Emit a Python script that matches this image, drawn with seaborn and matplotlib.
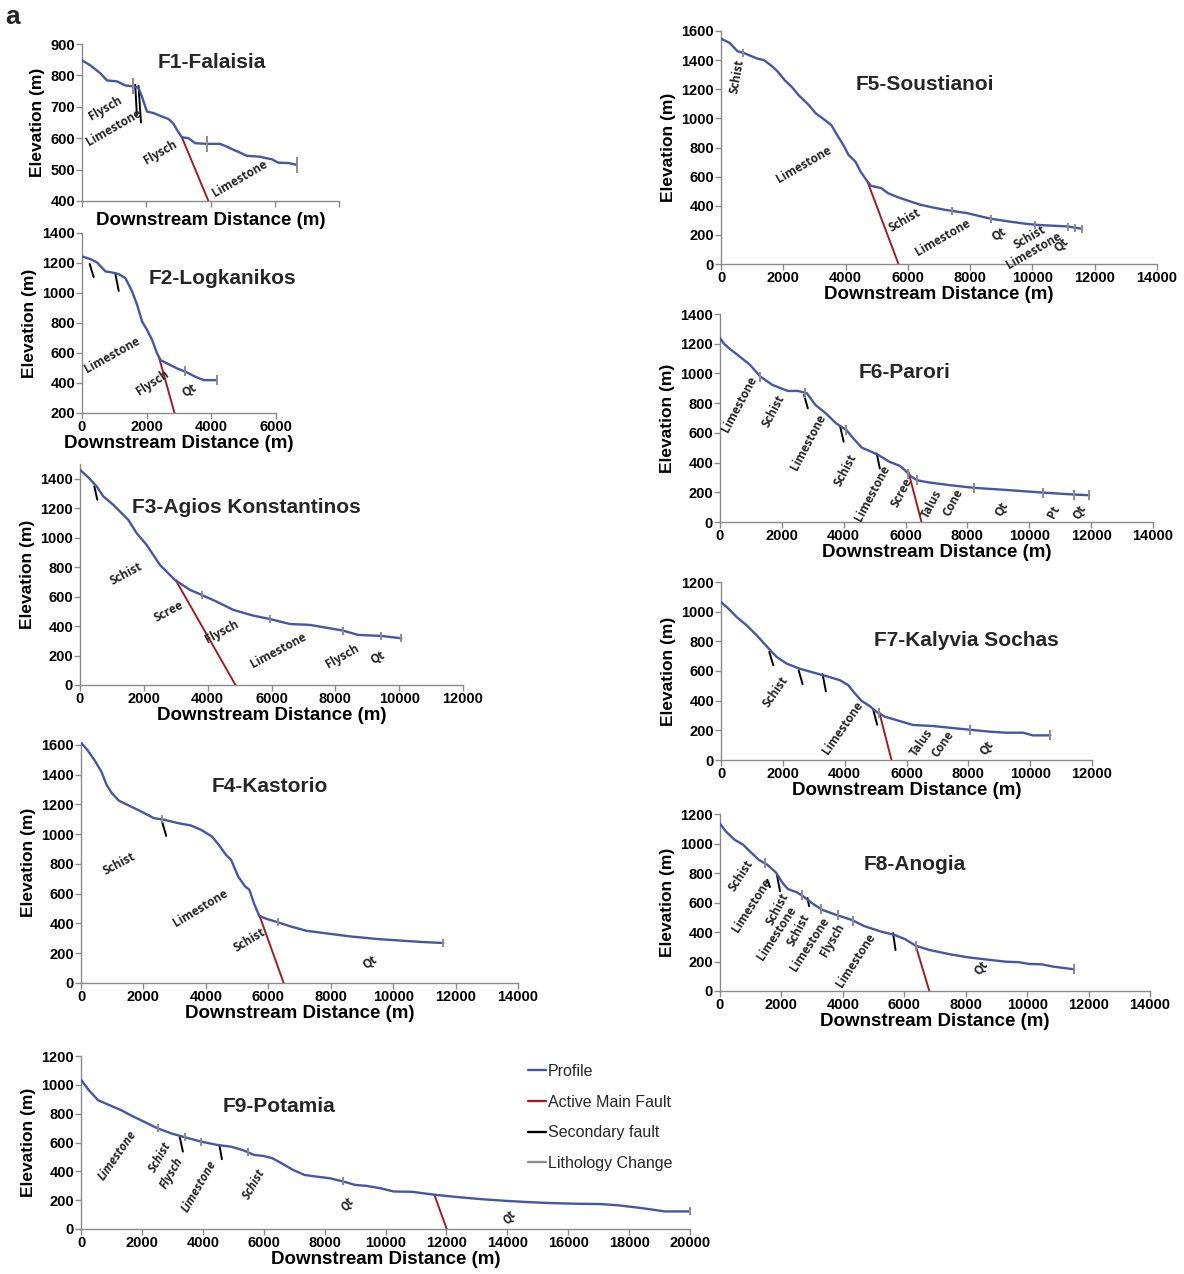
import numpy as np
import matplotlib
matplotlib.use("Agg")
import matplotlib.pyplot as plt
import seaborn as sns
from matplotlib.lines import Line2D

# ---------------- data ----------------
f1_x = [0, 65, 142, 194, 272, 337, 402, 440, 466, 505, 557, 635, 674, 712, 738, 777, 829, 881, 972, 1075, 1127, 1179, 1231, 1282, 1386, 1438, 1477, 1528, 1606, 1671]
f1_y = [848, 832, 807, 784, 781, 768, 765, 760, 733, 685, 680, 667, 661, 646, 627, 603, 600, 584, 582, 582, 573, 563, 554, 544, 541, 536, 533, 522, 521, 515]
f1_fault_x = [777, 984]
f1_fault_y = [603, 400]
f1_sec = [(414, 770, 427, 674), (440, 767, 459, 650)]
f1_litho = [396, 972, 1671]
f1_labels = [("Flysch", 181, 696, 30), ("Limestone", 246, 634, 30), ("Flysch", 609, 554, 30), ("Limestone", 1231, 472, 30)]

f2_x = [0, 258, 465, 723, 930, 1136, 1343, 1550, 1705, 1860, 2015, 2169, 2324, 2428, 2634, 2944, 3202, 3512, 3771, 4163]
f2_y = [1244, 1226, 1204, 1144, 1137, 1126, 1099, 1010, 921, 809, 753, 686, 597, 553, 530, 497, 475, 441, 419, 419]
f2_fault_x = [2376, 2862]
f2_fault_y = [575, 200]
f2_sec = [(238, 1193, 362, 1106), (1033, 1126, 1136, 1014)]
f2_litho = [3171, 4163]
f2_labels = [("Limestone", 930, 586, 29), ("Flysch", 2169, 403, 33), ("Qt", 3337, 347, 33)]

f3_x = [0, 261, 522, 730, 1044, 1513, 1774, 2087, 2504, 2974, 3443, 3808, 4278, 4800, 5426, 5948, 6574, 7200, 7826, 8244, 8713, 9444, 10070]
f3_y = [1461, 1409, 1348, 1280, 1223, 1121, 1031, 951, 815, 713, 646, 612, 566, 510, 471, 448, 414, 408, 385, 369, 340, 333, 317]
f3_fault_x = [2995, 4873]
f3_fault_y = [713, 0]
f3_sec = [(449, 1348, 543, 1257)]
f3_litho = [3809, 5948, 8244, 9444, 10070]
f3_labels = [("Schist", 1440, 752, 28), ("Scree", 2765, 498, 28), ("Flysch", 4435, 362, 28), ("Limestone", 6209, 231, 28), ("Flysch", 8223, 197, 30), ("Qt", 9339, 186, 30)]

f4_x = [0, 202, 427, 652, 820, 989, 1213, 1551, 1888, 2337, 2674, 3124, 3517, 3854, 4191, 4416, 4641, 4809, 5034, 5259, 5393, 5539, 5708, 5933, 6326, 6719, 7225, 7955, 8629, 9528, 10315, 10989, 11607]
f4_y = [1616, 1567, 1500, 1421, 1332, 1276, 1226, 1191, 1157, 1108, 1097, 1074, 1059, 1029, 985, 929, 862, 828, 716, 649, 627, 537, 452, 432, 407, 380, 351, 331, 313, 295, 284, 275, 269]
f4_fault_x = [5708, 6494]
f4_fault_y = [459, 0]
f4_sec = [(2596, 1085, 2730, 989)]
f4_litho = [2596, 6303, 11607]
f4_labels = [("Schist", 1213, 799, 28), ("Limestone", 3820, 504, 31), ("Schist", 5393, 291, 31), ("Qt", 9270, 141, 35)]

f5_x = [0, 277, 531, 719, 1162, 1383, 1660, 1826, 2048, 2269, 2490, 2822, 3044, 3265, 3541, 3763, 3929, 4095, 4316, 4482, 4703, 4814, 5146, 5367, 5699, 6087, 6419, 6806, 7194, 7525, 7913, 8356, 8688, 9241, 9794, 10126, 10458, 11122, 11587]
f5_y = [1548, 1518, 1461, 1450, 1411, 1400, 1354, 1320, 1262, 1217, 1160, 1091, 1034, 1000, 954, 874, 817, 749, 703, 635, 566, 537, 521, 486, 457, 429, 406, 388, 372, 361, 349, 326, 310, 292, 276, 269, 265, 258, 242]
f5_fault_x = [4703, 5699]
f5_fault_y = [566, 0]
f5_sec = []
f5_litho = [719, 7415, 8665, 10071, 11155, 11366, 11587]
f5_labels = [("Schist", 531, 1290, 80), ("Limestone", 2656, 680, 30), ("Schist", 5899, 297, 30), ("Limestone", 7116, 178, 30), ("Qt", 8931, 201, 35), ("Schist", 9927, 183, 30), ("Limestone", 10038, 91, 30), ("Qt", 10923, 128, 45)]

f6_x = [0, 134, 356, 635, 969, 1303, 1693, 2194, 2528, 2806, 3085, 3419, 3753, 4087, 4310, 4588, 5089, 5479, 5813, 5980, 6147, 6370, 6760, 7428, 8208, 9099, 10435, 11437, 11939]
f6_y = [1238, 1198, 1159, 1114, 1058, 979, 923, 882, 882, 867, 788, 732, 664, 619, 563, 500, 455, 405, 378, 349, 311, 281, 266, 248, 230, 218, 198, 185, 180]
f6_fault_x = [6092, 6515]
f6_fault_y = [338, 0]
f6_sec = [(2717, 855, 2840, 765), (3887, 642, 3998, 540), (5067, 461, 5168, 360)]
f6_litho = [1303, 2750, 4065, 6092, 6370, 8208, 10435, 11437, 11939]
f6_labels = [("Limestone", 635, 792, 62), ("Schist", 1726, 747, 62), ("Limestone", 2840, 536, 62), ("Schist", 4065, 349, 62),
             ("Limestone", 4922, 191, 62), ("Scree", 5869, 198, 62), ("Talus", 6849, 119, 62), ("Cone", 7540, 130, 62),
             ("Qt", 9099, 90, 62), ("Pt", 10792, 68, 62), ("Qt", 11627, 68, 62)]

f7_x = [0, 237, 506, 829, 1152, 1475, 1799, 2122, 2553, 2983, 3414, 3845, 4114, 4329, 4545, 4814, 5030, 5299, 5676, 6214, 6860, 7614, 8153, 8691, 9230, 9768, 10091, 10652]
f7_y = [1065, 1021, 964, 908, 841, 767, 695, 650, 615, 590, 565, 538, 505, 449, 399, 363, 325, 292, 269, 236, 229, 213, 202, 191, 184, 184, 166, 166]
f7_fault_x = [5116, 5514]
f7_fault_y = [325, 0]
f7_sec = [(1562, 729, 1691, 639), (2510, 606, 2639, 511), (3285, 579, 3393, 462), (4922, 341, 5051, 238)]
f7_litho = [5116, 8045, 10652]
f7_labels = [("Schist", 1777, 460, 55), ("Limestone", 3953, 220, 55), ("Talus", 6484, 117, 55), ("Cone", 7162, 108, 55), ("Qt", 8605, 79, 55)]

f8_x = [0, 191, 472, 752, 977, 1258, 1538, 1819, 2043, 2212, 2493, 2717, 2998, 3335, 3784, 4289, 4682, 5243, 5692, 6029, 6366, 6815, 7489, 8050, 8612, 9286, 9735, 10071, 10465, 10857, 11531]
f8_y = [1134, 1082, 1026, 992, 946, 890, 856, 804, 731, 691, 670, 641, 595, 550, 516, 482, 441, 403, 380, 351, 308, 278, 249, 229, 215, 199, 195, 183, 181, 165, 147]
f8_fault_x = [6366, 6815]
f8_fault_y = [312, 0]
f8_sec = [(1853, 788, 1954, 676), (1538, 754, 1628, 704), (2850, 630, 2900, 575), (5636, 392, 5715, 278)]
f8_litho = [1460, 2661, 3279, 3840, 4345, 6366, 11531]
f8_labels = [("Schist", 696, 781, 57), ("Limestone", 1033, 584, 57), ("Schist", 1875, 555, 62), ("Limestone", 1853, 392, 57),
             ("Schist", 2549, 414, 62), ("Limestone", 2908, 319, 57), ("Flysch", 3672, 342, 60), ("Limestone", 4435, 211, 57),
             ("Qt", 8500, 154, 52)]

f9_x = [0, 256, 558, 859, 1311, 1688, 2140, 2517, 2969, 3421, 3948, 4476, 4928, 5305, 5682, 5983, 6284, 6586, 6962, 7339, 7716, 8168, 8620, 8997, 9374, 9826, 10278, 10881, 11634, 12388, 13141, 13895, 14648, 15401, 16306, 17059, 17662, 18415, 19169, 20000]
f9_y = [1036, 963, 894, 866, 825, 783, 737, 698, 663, 636, 606, 583, 571, 548, 514, 507, 491, 456, 410, 375, 364, 352, 329, 306, 299, 283, 260, 258, 237, 221, 207, 196, 187, 180, 175, 173, 164, 145, 122, 122]
f9_fault_x = [11604, 12011]
f9_fault_y = [237, 0]
f9_sec = [(3240, 640, 3346, 537), (4551, 576, 4627, 484)]
f9_litho = [2517, 3421, 3948, 5486, 8590, 20000]
f9_labels = [("Limestone", 1206, 514, 55), ("Schist", 2592, 497, 60), ("Flysch", 2969, 387, 60), ("Limestone", 3873, 295, 60),
             ("Schist", 5682, 313, 60), ("Qt", 8741, 168, 55), ("Qt", 14076, 83, 55)]

titles = ["F1-Falaisia", "F2-Logkanikos", "F3-Agios Konstantinos", "F4-Kastorio", "F5-Soustianoi",
          "F6-Parori", "F7-Kalyvia Sochas", "F8-Anogia", "F9-Potamia"]
legend_labels = ["Profile", "Active Main Fault", "Secondary fault", "Lithology Change"]

# ---------------- style ----------------
sns.set_theme(style="white")
plt.rcParams["font.family"] = ["Liberation Sans", "DejaVu Sans"]

BLUE = "#4656a6"
RED = "#a11d24"
GRAY = "#8c8c8c"
AXC = "#8a8a8a"

W, H = 1184, 1274
fig = plt.figure(figsize=(W / 100, H / 100), dpi=100)


def rect(l, t, r, b):
    return [l / W, 1 - b / H, (r - l) / W, (b - t) / H]


panels = [
    dict(x=f1_x, y=f1_y, fx=f1_fault_x, fy=f1_fault_y, sec=f1_sec, lit=f1_litho, lab=f1_labels,
         box=(82, 44, 339, 201), xlim=(0, 2000), xt=np.arange(0, 2001, 500), ylim=(400, 900), yt=np.arange(400, 901, 100),
         xtl=False, ms=11, title=(212, 63)),
    dict(x=f2_x, y=f2_y, fx=f2_fault_x, fy=f2_fault_y, sec=f2_sec, lit=f2_litho, lab=f2_labels,
         box=(82, 233, 276, 413), xlim=(0, 6000), xt=np.arange(0, 6001, 2000), ylim=(200, 1400), yt=np.arange(200, 1401, 200),
         xtl=True, ms=7, title=(222, 278)),
    dict(x=f3_x, y=f3_y, fx=f3_fault_x, fy=f3_fault_y, sec=f3_sec, lit=f3_litho, lab=f3_labels,
         box=(80, 464, 463, 685), xlim=(0, 12000), xt=np.arange(0, 12001, 2000), ylim=(0, 1500), yt=np.arange(0, 1401, 200),
         xtl=True, ms=6, title=(246, 508)),
    dict(x=f4_x, y=f4_y, fx=f4_fault_x, fy=f4_fault_y, sec=f4_sec, lit=f4_litho, lab=f4_labels,
         box=(81, 742, 518, 983), xlim=(0, 14000), xt=np.arange(0, 14001, 2000), ylim=(0, 1620), yt=np.arange(0, 1601, 200),
         xtl=True, ms=6, title=(270, 787)),
    dict(x=f5_x, y=f5_y, fx=f5_fault_x, fy=f5_fault_y, sec=f5_sec, lit=f5_litho, lab=f5_labels,
         box=(721, 31, 1157, 264), xlim=(0, 14000), xt=np.arange(0, 14001, 2000), ylim=(0, 1600), yt=np.arange(0, 1601, 200),
         xtl=True, ms=6, title=(925, 84)),
    dict(x=f6_x, y=f6_y, fx=f6_fault_x, fy=f6_fault_y, sec=f6_sec, lit=f6_litho, lab=f6_labels,
         box=(720, 314, 1153, 522), xlim=(0, 14000), xt=np.arange(0, 14001, 2000), ylim=(0, 1400), yt=np.arange(0, 1401, 200),
         xtl=True, ms=7, title=(905, 373)),
    dict(x=f7_x, y=f7_y, fx=f7_fault_x, fy=f7_fault_y, sec=f7_sec, lit=f7_litho, lab=f7_labels,
         box=(721, 582, 1092, 760), xlim=(0, 12000), xt=np.arange(0, 12001, 2000), ylim=(0, 1200), yt=np.arange(0, 1201, 200),
         xtl=True, ms=7, title=(966, 640)),
    dict(x=f8_x, y=f8_y, fx=f8_fault_x, fy=f8_fault_y, sec=f8_sec, lit=f8_litho, lab=f8_labels,
         box=(720, 814, 1150, 991), xlim=(0, 14000), xt=np.arange(0, 14001, 2000), ylim=(0, 1200), yt=np.arange(0, 1201, 200),
         xtl=True, ms=7, title=(915, 864)),
    dict(x=f9_x, y=f9_y, fx=f9_fault_x, fy=f9_fault_y, sec=f9_sec, lit=f9_litho, lab=f9_labels,
         box=(81, 1056, 690, 1229), xlim=(0, 20000), xt=np.arange(0, 20001, 2000), ylim=(0, 1200), yt=np.arange(0, 1201, 200),
         xtl=True, ms=6, title=(279, 1106), italic=True),
]

for i, p in enumerate(panels):
    ax = fig.add_axes(rect(*p["box"]))
    sns.lineplot(x=p["x"], y=p["y"], ax=ax, color=BLUE, lw=1.7, estimator=None, sort=False, legend=False, zorder=3)
    ax.plot(p["fx"], p["fy"], color=RED, lw=1.4, zorder=2)
    for s in p["sec"]:
        ax.plot([s[0], s[2]], [s[1], s[3]], color="black", lw=1.4, zorder=2)
    ly = np.interp(p["lit"], p["x"], p["y"])
    ax.plot(p["lit"], ly, ls="none", marker="|", ms=p["ms"], mew=1.4, color=GRAY, clip_on=False, zorder=4)
    style = "italic" if p.get("italic") else "normal"
    for (t, tx, ty, rot) in p["lab"]:
        ax.text(tx, ty, t, rotation=rot, rotation_mode="anchor", ha="center", va="center",
                fontsize=8.5, fontweight="bold", fontstyle=style, family=["Open Sans", "DejaVu Sans"], zorder=5)
    ax.set_xlim(p["xlim"])
    ax.set_ylim(p["ylim"])
    ax.set_xticks(p["xt"])
    ax.set_yticks(p["yt"])
    if not p["xtl"]:
        ax.set_xticklabels([])
    for sp in ["top", "right"]:
        ax.spines[sp].set_visible(False)
    for sp in ["left", "bottom"]:
        ax.spines[sp].set_color(AXC)
        ax.spines[sp].set_linewidth(1.0)
    ax.tick_params(direction="out", length=4, width=1, color=AXC, labelsize=10.5, pad=1, labelcolor="black",
                   bottom=True, left=True)
    plt.setp(ax.get_xticklabels() + ax.get_yticklabels(), fontweight="bold")
    ax.set_xlabel("Downstream Distance (m)", fontsize=13.5, fontweight="bold", labelpad=1 if p["xtl"] else 3, color="black")
    ax.set_ylabel("Elevation (m)", fontsize=12.5, fontweight="bold", labelpad=4, color="black")
    ax.patch.set_alpha(0)
    tx, ty = p["title"]
    fig.text(tx / W, 1 - ty / H, titles[i], ha="center", va="center", fontsize=15, fontweight="bold")

fig.text(13 / W, 1 - 17 / H, "a", ha="center", va="center", fontsize=19, fontweight="bold")

handles = [Line2D([0], [0], color=c, lw=1.7) for c in [BLUE, RED, "black", GRAY]]
fig.legend(handles, legend_labels, loc="upper left", bbox_to_anchor=(528 / W, 1 - 1064 / H), frameon=False,
           handlelength=1.1, handletextpad=0.15, labelspacing=0.98, fontsize=11.5, borderaxespad=0, borderpad=0)

fig.savefig("out.png", dpi=100)
